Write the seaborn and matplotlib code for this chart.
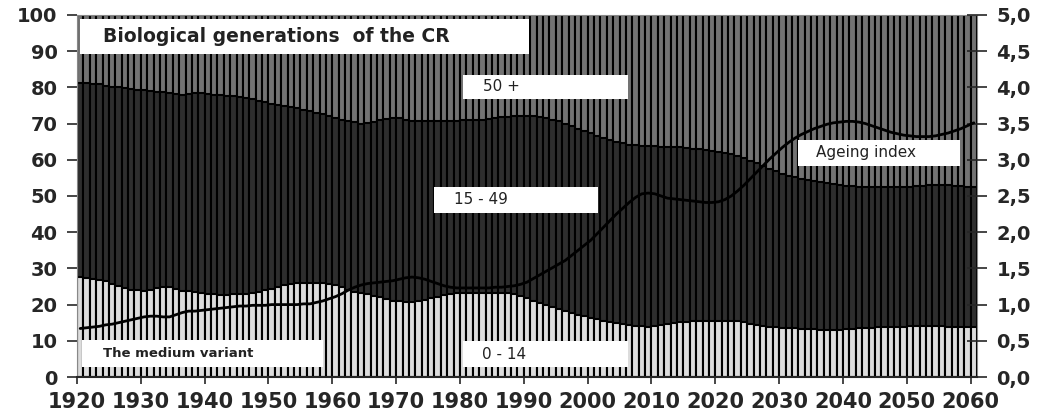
import matplotlib
matplotlib.use("Agg")
import numpy as np
import pandas as pd
import matplotlib.pyplot as plt
import seaborn as sns
from matplotlib.patches import Rectangle

# Data
years = list(range(1920, 2061))

share_0_14 = [
    27.5, 27.3, 27.0, 26.7, 26.4, 25.8, 25.2, 24.7, 24.1, 23.9,
    23.8, 24.1, 24.5, 24.8, 24.9, 24.4, 23.8, 23.7, 23.6, 23.3,
    22.9, 22.8, 22.7, 22.7, 22.8, 22.9, 23.0, 23.1, 23.4, 23.9,
    24.3, 24.9, 25.4, 25.8, 26.0, 26.1, 26.1, 26.1, 26.0, 25.8,
    25.3, 24.8, 24.0, 23.5, 23.2, 22.8, 22.4, 22.0, 21.6, 21.1,
    20.9, 20.7, 20.6, 20.9, 21.3, 21.7, 22.2, 22.7, 23.0, 23.2,
    23.3, 23.3, 23.3, 23.3, 23.3, 23.3, 23.3, 23.2, 22.9, 22.4,
    21.8, 21.0, 20.4, 19.9, 19.3, 18.7, 18.1, 17.6, 17.2, 16.8,
    16.3, 15.9, 15.6, 15.3, 15.0, 14.7, 14.4, 14.2, 14.0, 13.9,
    14.1, 14.4, 14.7, 14.9, 15.1, 15.3, 15.4, 15.5, 15.6, 15.6,
    15.6, 15.6, 15.5, 15.4, 15.1, 14.7, 14.4, 14.1, 13.9, 13.7,
    13.6, 13.5, 13.4, 13.3, 13.2, 13.2, 13.1, 13.0, 13.0, 13.1,
    13.2, 13.3, 13.4, 13.5, 13.6, 13.7, 13.8, 13.8, 13.9, 13.9,
    14.0, 14.1, 14.2, 14.1, 14.0, 14.0, 13.9, 13.9, 13.9, 13.8,
    13.9,
]

share_50_plus = [
    18.8, 18.9, 19.0, 19.2, 19.5, 19.8, 20.0, 20.2, 20.4, 20.6,
    20.8, 21.0, 21.2, 21.4, 21.5, 21.8, 22.1, 21.9, 21.6, 21.6,
    21.8, 22.0, 22.1, 22.3, 22.5, 22.8, 23.0, 23.3, 23.7, 24.1,
    24.5, 24.8, 25.1, 25.4, 25.8, 26.2, 26.6, 27.0, 27.5, 28.0,
    28.4, 28.9, 29.4, 29.7, 30.0, 29.9, 29.5, 29.1, 28.8, 28.6,
    28.6, 28.9, 29.2, 29.3, 29.3, 29.3, 29.3, 29.3, 29.3, 29.2,
    29.1, 29.0, 29.0, 28.9, 28.7, 28.5, 28.3, 28.1, 28.0, 27.9,
    27.9, 28.0, 28.2, 28.5, 28.9, 29.4, 30.0, 30.7, 31.4, 32.0,
    32.7, 33.4, 34.0, 34.6, 35.1, 35.5, 35.8, 36.0, 36.1, 36.2,
    36.3, 36.4, 36.4, 36.5, 36.6, 36.7, 36.9, 37.1, 37.3, 37.5,
    37.8, 38.1, 38.5, 39.0, 39.6, 40.3, 41.0, 41.7, 42.5, 43.2,
    43.8, 44.4, 44.9, 45.3, 45.6, 45.9, 46.2, 46.5, 46.8, 47.0,
    47.2, 47.3, 47.4, 47.5, 47.6, 47.6, 47.6, 47.5, 47.5, 47.4,
    47.4, 47.3, 47.2, 47.1, 47.0, 47.0, 47.1, 47.2, 47.3, 47.4,
    47.4,
]

ageing_index = [
    0.67, 0.68, 0.69, 0.70, 0.72, 0.73, 0.75, 0.77, 0.79, 0.81,
    0.83, 0.84, 0.84, 0.83, 0.83, 0.86, 0.89, 0.91, 0.91, 0.92,
    0.93, 0.94, 0.95, 0.96, 0.97, 0.98, 0.98, 0.99, 0.99, 0.99,
    1.00, 1.00, 1.00, 1.00, 1.00, 1.01, 1.01, 1.03, 1.05, 1.08,
    1.11, 1.15, 1.20, 1.24, 1.27, 1.29, 1.30, 1.31, 1.32, 1.33,
    1.35, 1.37, 1.38, 1.37, 1.35, 1.32, 1.29, 1.26, 1.24, 1.23,
    1.23, 1.23, 1.23, 1.23, 1.23, 1.24, 1.24, 1.25, 1.26, 1.28,
    1.31, 1.36, 1.41, 1.46, 1.51, 1.56, 1.61, 1.68, 1.75, 1.82,
    1.89, 1.98, 2.07, 2.16, 2.25, 2.33, 2.41, 2.48, 2.53, 2.54,
    2.53, 2.50, 2.47, 2.46, 2.45, 2.44, 2.43, 2.42, 2.41, 2.41,
    2.42, 2.45, 2.50, 2.57, 2.65, 2.74, 2.83, 2.92, 3.01, 3.09,
    3.17, 3.24, 3.30, 3.35, 3.39, 3.43, 3.46, 3.49, 3.51, 3.52,
    3.53, 3.53, 3.52, 3.50, 3.47, 3.44, 3.41, 3.38, 3.36, 3.34,
    3.33, 3.32, 3.32, 3.32, 3.33, 3.35, 3.37, 3.40, 3.43, 3.47,
    3.51,
]

x_ticks = list(range(1920, 2061, 10))
left_ticks = list(range(0, 101, 10))
right_ticks = [i * 0.5 for i in range(11)]

df = pd.DataFrame({"year": years, "young": share_0_14, "old": share_50_plus,
                   "ageing": ageing_index})
df["mid"] = 100 - df["young"] - df["old"]
df["pos"] = df["year"] + 0.5
df["total"] = df["young"] + df["mid"] + df["old"]
df["under50"] = df["young"] + df["mid"]

sns.set_style("ticks")
plt.rcParams["font.family"] = ["DejaVu Sans"]

fig = plt.figure(figsize=(10.49, 4.11), dpi=100)
ax = fig.add_axes([0.0734, 0.0827, 0.858, 0.881])

bar_kw = dict(native_scale=True, width=1, edgecolor="black", linewidth=1.5,
              saturation=1, errorbar=None, ax=ax)
sns.barplot(data=df, x="pos", y="total", color="#737373", **bar_kw)
sns.barplot(data=df, x="pos", y="under50", color="#2e2e2e", **bar_kw)
sns.barplot(data=df, x="pos", y="young", color="#dcdcdc", **bar_kw)

ax.set_xlim(1920, 2061)
ax.set_ylim(0, 100)
ax.set_xticks(x_ticks)
ax.set_xticklabels([str(t) for t in x_ticks], fontsize=15, fontweight="bold")
ax.set_yticks(left_ticks)
ax.set_yticklabels([str(t) for t in left_ticks], fontsize=14, fontweight="bold")
ax.tick_params(axis="x", length=5, width=1.2, pad=6)
ax.tick_params(axis="y", length=7, width=1.2, pad=7)
ax.set_xlabel("")
ax.set_ylabel("")
for s in ["left", "top", "right"]:
    ax.spines[s].set_color("#888888")
ax.spines["bottom"].set_linewidth(1.5)

# label boxes
def label_box(x0, x1, y0, y1, text, tx, **kw):
    ax.add_patch(Rectangle((x0, y0), x1 - x0, y1 - y0, facecolor="white",
                           edgecolor="none", zorder=5))
    ax.text(tx, (y0 + y1) / 2, text, va="center", ha="left", zorder=6,
            color="#222222", **kw)

label_box(1920.5, 1990.8, 89.2, 98.9, "Biological generations  of the CR", 1924.0,
          fontsize=13.5, fontweight="bold")
label_box(1980.4, 2006.3, 76.8, 83.4, "50 +", 1983.6, fontsize=11)
label_box(1975.9, 2001.6, 45.3, 52.5, "15 - 49", 1979.0, fontsize=11)
label_box(2033.0, 2058.4, 58.3, 65.5, "Ageing index", 2035.8, fontsize=11)
label_box(1920.8, 1958.6, 2.8, 10.2, "The medium variant", 1924.0,
          fontsize=9.5, fontweight="bold")
label_box(1980.5, 2006.3, 2.8, 9.9, "0 - 14", 1983.5, fontsize=11)

ax2 = ax.twinx()
sns.lineplot(data=df, x="pos", y="ageing", color="black", linewidth=2.0, ax=ax2)
ax2.set_ylim(0, 5)
ax2.set_xlim(1920, 2061)
ax2.set_yticks(right_ticks)
ax2.set_yticklabels([f"{t:.1f}".replace(".", ",") for t in right_ticks],
                    fontsize=14, fontweight="bold")
ax2.tick_params(axis="y", direction="inout", length=14, width=1.2, pad=7)
ax2.set_ylabel("")
ax2.set_xlabel("")
for s in ["left", "top", "right", "bottom"]:
    ax2.spines[s].set_visible(False)

fig.savefig("out.png", dpi=100)
